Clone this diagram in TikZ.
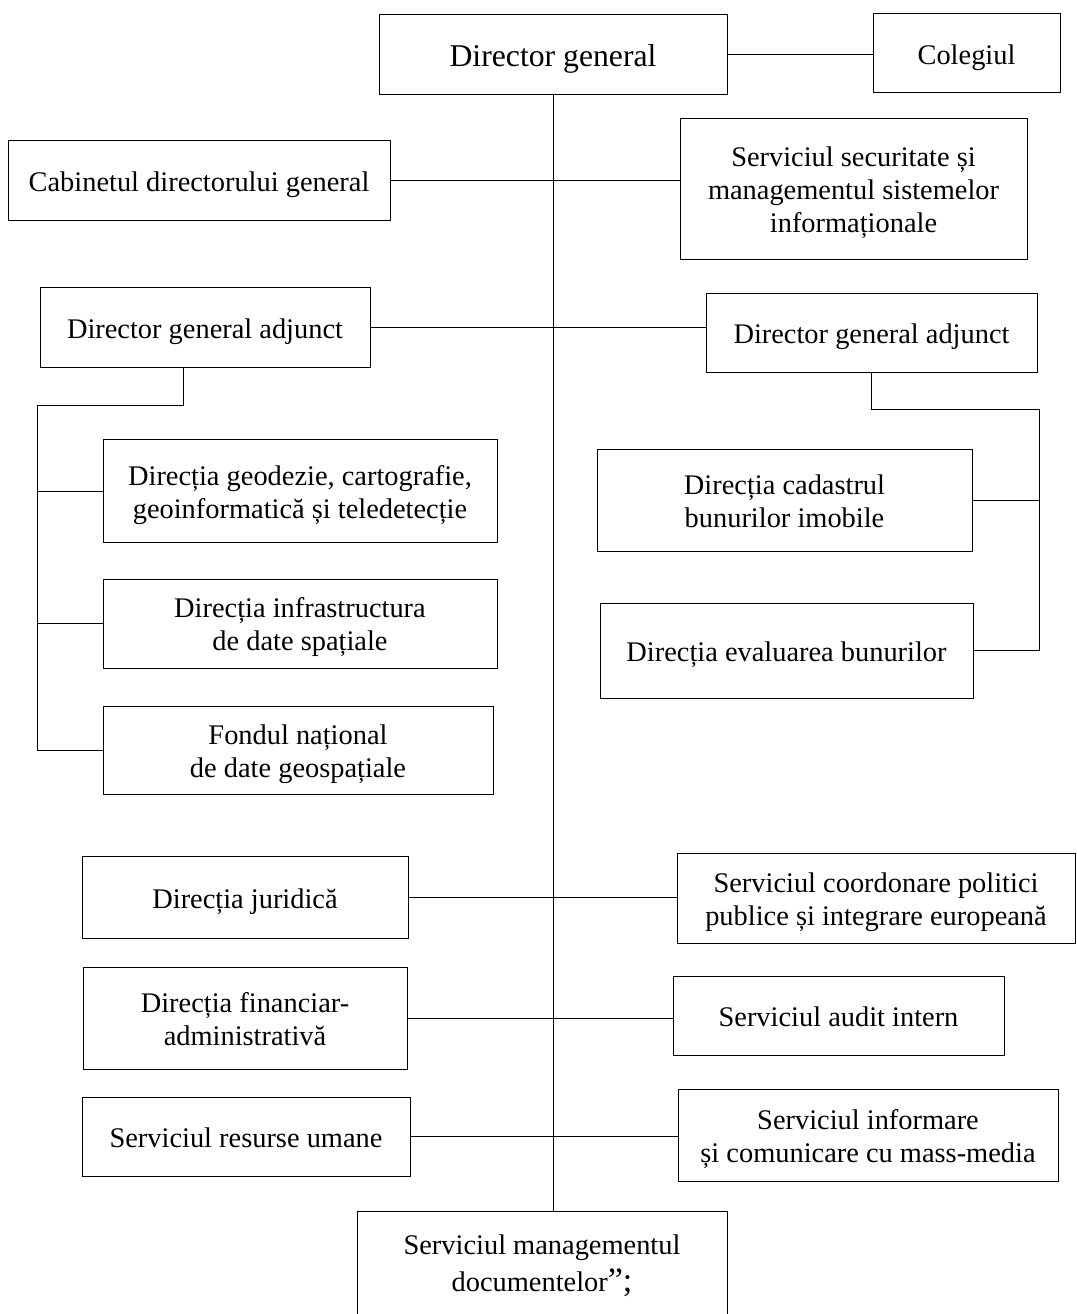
\documentclass[tikz,border=0pt]{standalone}
\usepackage{fontspec}
\setmainfont{Liberation Serif}

\begin{document}
\begin{tikzpicture}[x=1pt,y=-1pt,line width=0.9pt,
	box/.style={draw,inner sep=2pt,align=center,text height=26pt,text depth=4pt,font=\fontsize{28.4}{33}\selectfont},
	two/.style={text height=59pt,text depth=5pt},
	three/.style={text height=93pt,text depth=6pt}]
		\useasboundingbox (0,0) rectangle (1076,1314);
		\node[box,minimum width=348,minimum height=80,text height=31pt,text depth=6pt,font=\fontsize{31.7}{36}\selectfont] (1) at (553,54) {Director general};
		\node[box,minimum width=187,minimum height=79] (2) at (966.5,53) {Colegiul};
		\node[box,minimum width=382,minimum height=80] (3) at (199,180) {Cabinetul directorului general};
		\node[box,three,minimum width=347,minimum height=141] (4) at (853.5,188.5) {Serviciul securitate și\\managementul sistemelor\\informaționale};
		\node[box,minimum width=330,minimum height=80] (5) at (205,327) {Director general adjunct};
		\node[box,minimum width=331,minimum height=79] (6) at (871.5,332.5) {Director general adjunct};
		\node[box,two,minimum width=394,minimum height=103] (7) at (300,491) {Direcția geodezie, cartografie,\\geoinformatică și teledetecție};
		\node[box,two,minimum width=394,minimum height=89] (8) at (300,623.5) {Direcția infrastructura\\de date spațiale};
		\node[box,two,minimum width=390,minimum height=88] (9) at (298,750) {Fondul național\\de date geospațiale};
		\node[box,two,minimum width=375,minimum height=102] (10) at (784.5,500) {Direcția cadastrul\\bunurilor imobile};
		\node[box,minimum width=373,minimum height=95] (11) at (786.5,650.5) {Direcția evaluarea bunurilor};
		\node[box,minimum width=326,minimum height=82] (12) at (245,897) {Direcția juridică};
		\node[box,two,minimum width=324,minimum height=102] (13) at (245,1018) {Direcția financiar-\\administrativă};
		\node[box,minimum width=328,minimum height=79] (14) at (246,1136.5) {Serviciul resurse umane};
		\node[box,two,minimum width=398,minimum height=90] (15) at (876,898) {Serviciul coordonare politici\\publice și integrare europeană};
		\node[box,minimum width=331,minimum height=79] (16) at (838.5,1015.5) {Serviciul audit intern};
		\node[box,two,minimum width=380,minimum height=92] (17) at (868,1135) {Serviciul informare\\și comunicare cu mass-media};
		\node[box,minimum width=370,minimum height=107,text height=59pt,text depth=6pt,font=\fontsize{28.4}{37}\selectfont] (18) at (542,1264.5) {Serviciul managementul\\documentelor{\fontsize{34}{37}\selectfont ”;}};
		
		\coordinate (a) at (183,405);
		\coordinate (b) at (37,405);
		\coordinate (c) at (1039,409);
		
		\draw (1) -- (1 |- 18.north);
		\draw (1.east) -- (1.east -| 2.west);
		\foreach \l/\r in {3/4,5/6,12/15,13/16,14/17}
			\draw (\l.east) -- (\l.east -| \r.west);
		\draw (5.south -| a) -- (a) -- (b) -- (b |- 9.west);
		\foreach \n in {7,8,9}
			\draw (\n.west) -- (\n.west -| b);
		\draw (6.south) -- (6.south |- c) -- (c) -- (c |- 11.east);
		\foreach \n in {10,11}
			\draw (\n.east) -- (\n.east -| c);
		\end{tikzpicture}
\end{document}
